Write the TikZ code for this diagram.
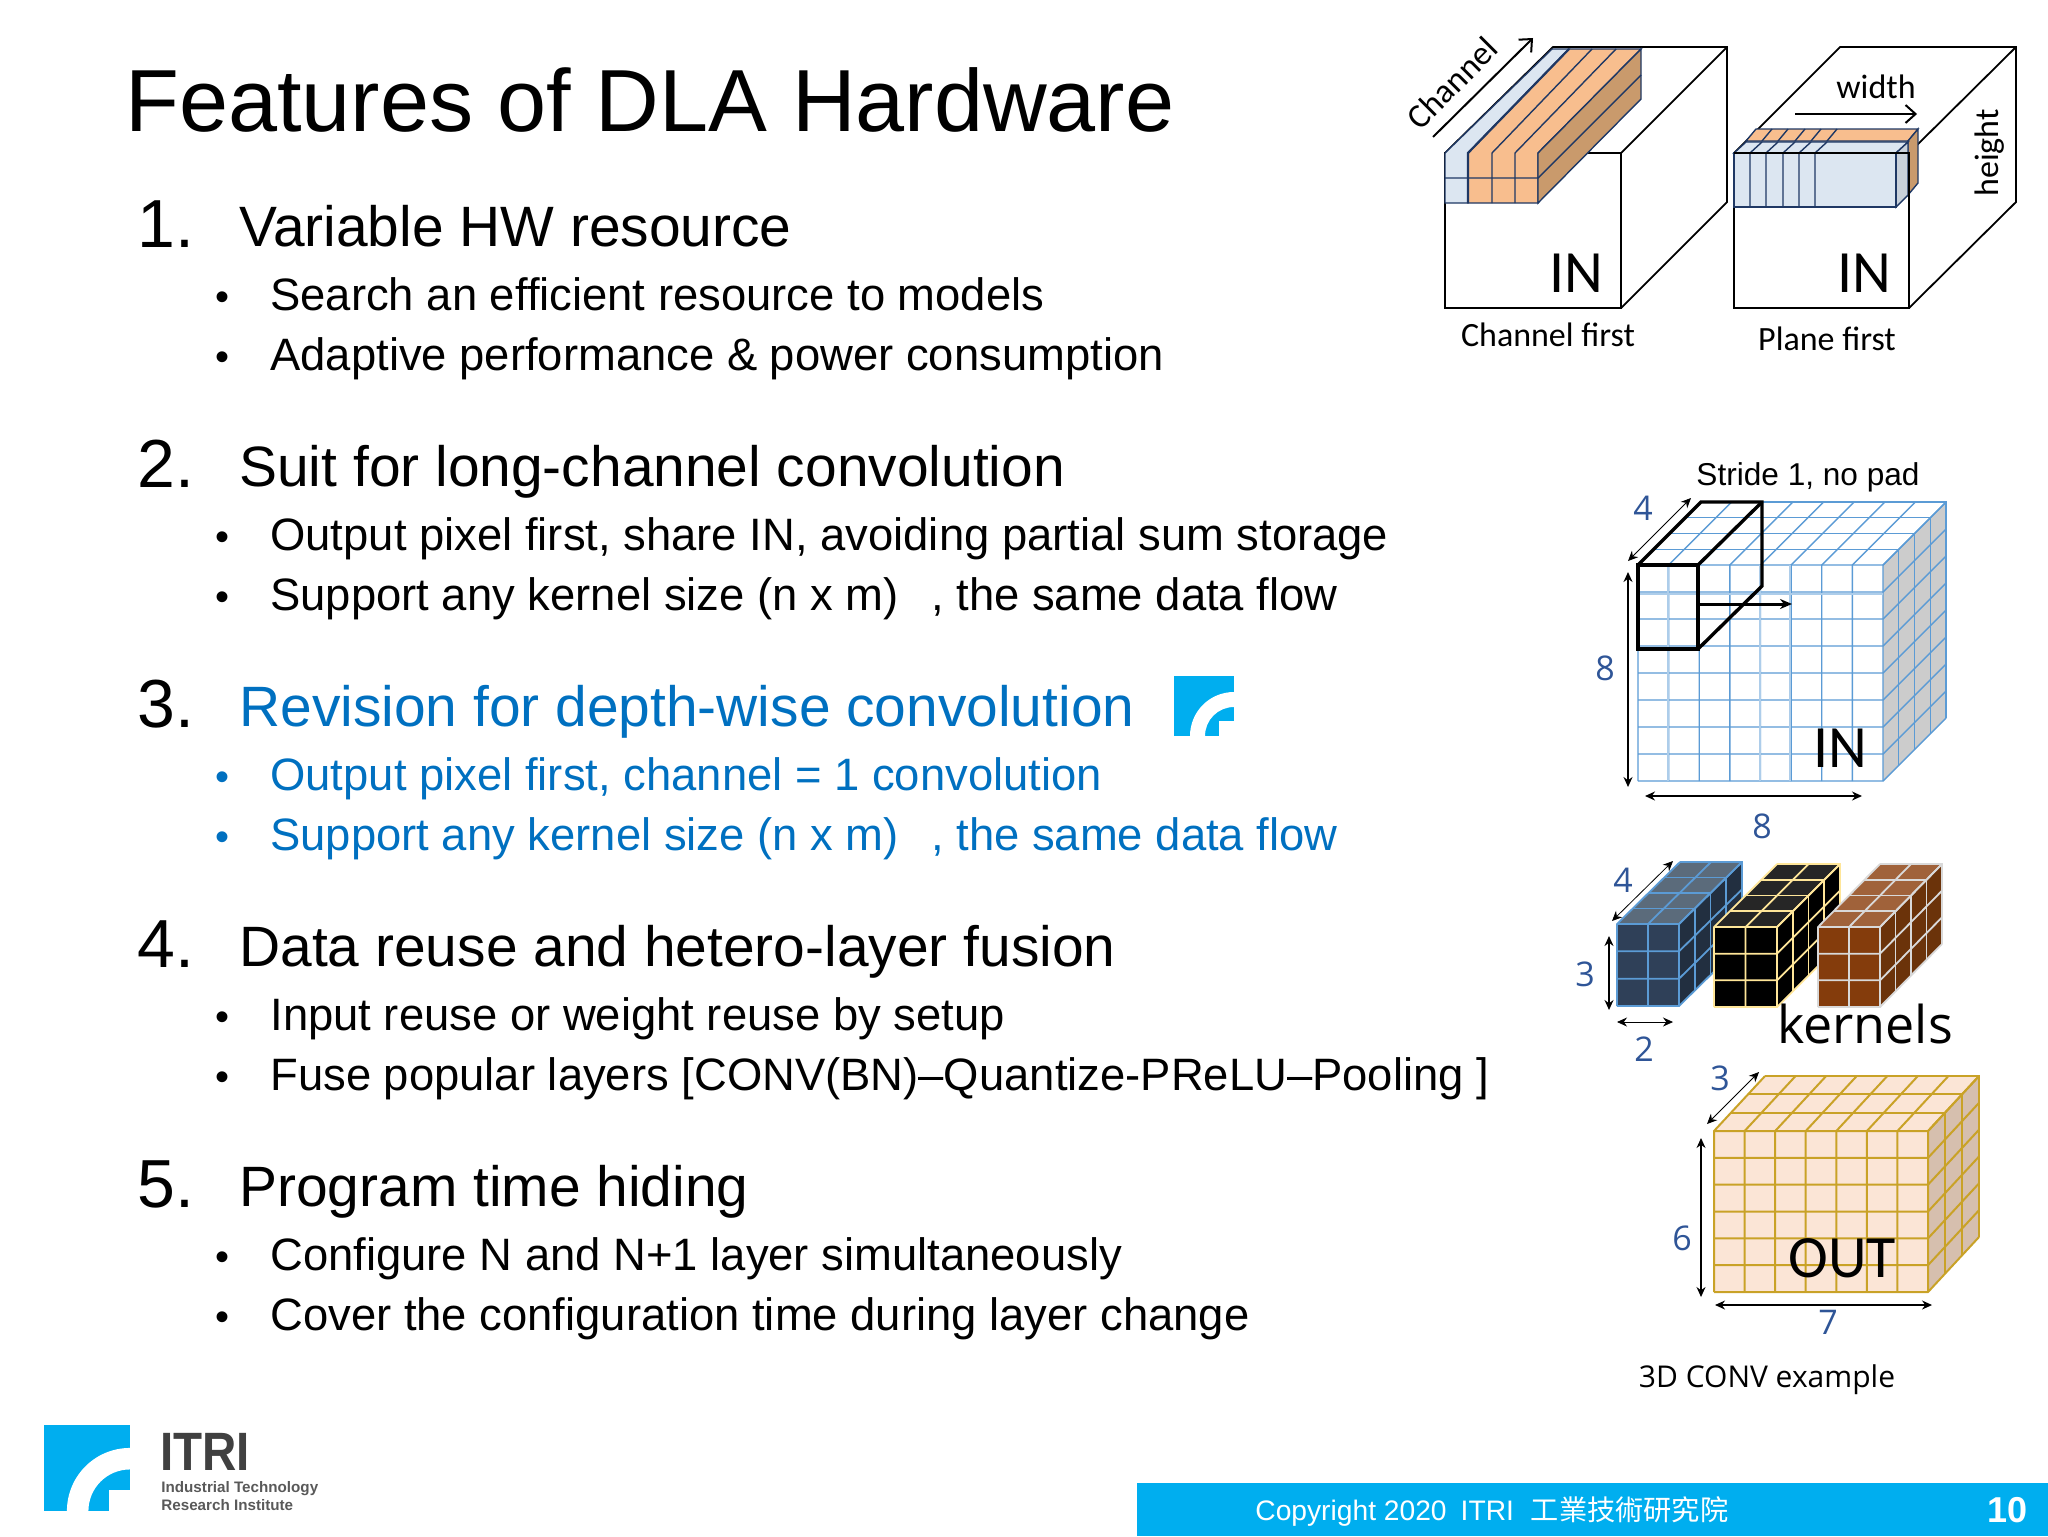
\documentclass[tikz,border=0pt]{standalone}
\usepackage{fontspec}
\usepackage{xcolor}
\setmainfont{Liberation Sans}
\newfontfamily\calfont{Carlito}
\newfontfamily\openfont{Open Sans}
\newfontfamily\cjkfont{Noto Sans CJK TC}
\usetikzlibrary{arrows.meta}
\definecolor{itriblue}{HTML}{00AEEF}
\definecolor{revblue}{HTML}{0070C0}
\definecolor{dimblue}{HTML}{2F5597}
\definecolor{gridblue}{HTML}{5B9BD5}
\definecolor{barblue}{HTML}{DCE6F1}
\definecolor{barorange}{HTML}{F8BE8E}
\definecolor{barbrown}{HTML}{C99A6C}
\definecolor{barline}{HTML}{1F3864}
\definecolor{outline}{HTML}{C9A227}
\definecolor{outfill}{HTML}{FBE5D6}
\definecolor{paleyellow}{HTML}{FFE699}

% w, h, cols, rows, depth, dx, dy
\newcommand{\gridbox}[7]{
    \fill[boxfront] (0,0) rectangle (#1,#2);
    \fill[boxtop] (0,0) -- (#6,#7) -- ++(#1,0) -- (#1,0) -- cycle;
    \fill[boxside] (#1,0) -- ++(#6,#7) -- ++(0,#2) -- (#1,#2) -- cycle;
    \foreach \i in {0,...,#3}
        \draw[boxline] ({\i*#1/#3},#2) -- ({\i*#1/#3},0) -- ++(#6,#7);
    \foreach \j in {0,...,#4}
        \draw[boxline] (0,{\j*#2/#4}) -- (#1,{\j*#2/#4}) -- ++(#6,#7);
    \foreach \k in {1,...,#5}
        \draw[boxline] ({\k*#6/#5},{\k*#7/#5}) -- ++(#1,0) -- ++(0,#2);
}

% 60 x 60 mark
\newcommand{\itrimark}{
    \fill[itriblue] (0,0) rectangle (60,60);
    \fill[white] (16,60) to[out=90,in=180] (60,16) -- (60,31) to[out=180,in=90] (31,60) -- cycle;
    \fill[white] (45,45) rectangle (60,60);
}

\begin{document}
\begin{tikzpicture}[
        x=0.5pt, y=-0.5pt,
        title/.style={anchor=base west, inner sep=0pt, font=\fontsize{44.1}{44}\selectfont},
        numlabel/.style={anchor=base west, inner sep=0pt, font=\fontsize{34}{34}\selectfont},
        headlabel/.style={anchor=base west, inner sep=0pt, font=\fontsize{28.45}{28}\selectfont},
        sublabel/.style={anchor=base west, inner sep=0pt, font=\fontsize{22.7}{24}\selectfont},
        bulletlabel/.style={anchor=base, inner sep=0pt, font=\fontsize{20}{20}\selectfont},
        callabel/.style={inner sep=0pt, font=\calfont\fontsize{17}{17}\selectfont},
        inlabel/.style={inner sep=0pt, font=\calfont\fontsize{30}{30}\selectfont},
        dimlabel/.style={inner sep=0pt, text=dimblue, font=\openfont\fontsize{17}{17}\selectfont},
        dimarrow/.style={{Stealth[length=5pt,width=4.5pt]}-{Stealth[length=5pt,width=4.5pt]}, line width=0.8pt},
        openarrow/.style={-{Straight Barb[length=5pt,width=9pt]}, line width=1pt},
        cubeedge/.style={draw=black, line width=0.9pt},
        baredge/.style={draw=barline, line width=0.7pt},
        stride/.style={draw=black, line width=1.7pt, line join=miter}
    ]
    \useasboundingbox (0,0) rectangle (2048,1536);

    \node[title] (title) at (125,132) {Features of DLA Hardware};

    \node[numlabel] (numA) at (137,247) {1.};
    \node[headlabel] (headA) at (239,246) {Variable HW resource};
    \node[bulletlabel] (dotAa) at (222,310) {•};
    \node[sublabel] (subAa) at (270,310) {Search an efficient resource to models};
    \node[bulletlabel] (dotAb) at (222,370) {•};
    \node[sublabel] (subAb) at (270,370) {Adaptive performance \& power consumption};

    \node[numlabel] (numB) at (137,487) {2.};
    \node[headlabel] (headB) at (239,486) {Suit for long-channel convolution};
    \node[bulletlabel] (dotBa) at (222,550) {•};
    \node[sublabel] (subBa) at (270,550) {Output pixel first, share IN, avoiding partial sum storage};
    \node[bulletlabel] (dotBb) at (222,610) {•};
    \node[sublabel] (subBb) at (270,610) {Support any kernel size (n x m)\hspace{0.72em}, the same data flow};

    \node[numlabel] (numC) at (137,727) {3.};
    \node[headlabel, text=revblue] (headC) at (239,726) {Revision for depth-wise convolution};
    \node[bulletlabel, text=revblue] (dotCa) at (222,790) {•};
    \node[sublabel, text=revblue] (subCa) at (270,790) {Output pixel first, channel = 1 convolution};
    \node[bulletlabel, text=revblue] (dotCb) at (222,850) {•};
    \node[sublabel, text=revblue] (subCb) at (270,850) {Support any kernel size (n x m)\hspace{0.72em}, the same data flow};

    \node[numlabel] (numD) at (137,967) {4.};
    \node[headlabel] (headD) at (239,966) {Data reuse and hetero-layer fusion};
    \node[bulletlabel] (dotDa) at (222,1030) {•};
    \node[sublabel] (subDa) at (270,1030) {Input reuse or weight reuse by setup};
    \node[bulletlabel] (dotDb) at (222,1090) {•};
    \node[sublabel] (subDb) at (270,1090) {Fuse popular layers [CONV(BN)–Quantize-PReLU–Pooling ]};

    \node[numlabel] (numE) at (137,1207) {5.};
    \node[headlabel] (headE) at (239,1206) {Program time hiding};
    \node[bulletlabel] (dotEa) at (222,1270) {•};
    \node[sublabel] (subEa) at (270,1270) {Configure N and N+1 layer simultaneously};
    \node[bulletlabel] (dotEb) at (222,1330) {•};
    \node[sublabel] (subEb) at (270,1330) {Cover the configuration time during layer change};

    \begin{scope}[shift={(1174,676)}]
        \itrimark
    \end{scope}

    % channel first
    \draw[cubeedge] (1445,153) rectangle (1621,308);
    \draw[cubeedge] (1445,153) -- (1553,47) -- (1727,47) -- (1727,202) -- (1621,308);
    \draw[cubeedge] (1621,153) -- (1727,47);
    \filldraw[baredge, fill=barblue] (1445,153) -- (1552,49) -- (1569,49) -- (1468,153) -- (1468,203) -- (1445,203) -- cycle;
    \filldraw[baredge, fill=barorange] (1468,153) -- (1569,49) -- (1641,49) -- (1538,153) -- (1538,203) -- (1468,203) -- cycle;
    \filldraw[baredge, fill=barbrown] (1538,153) -- (1641,49) -- (1641,99) -- (1538,203) -- cycle;
    \draw[baredge] (1445,178) -- (1538,178) -- (1641,75);
    \foreach \x/\xb in {1492/1592, 1515/1616}
        \draw[baredge] (\x,203) -- (\x,153) -- (\xb,49);
    \draw[baredge, line width=1.1pt] (1468,203) -- (1468,153) -- (1569,49);
    \draw[openarrow] (1433,137) -- (1533,38);
    \node[callabel, rotate=45] (channel) at (1452,83) {Channel};
    \node[inlabel] (inleft) at (1576,273) {IN};
    \node[callabel] (chfirst) at (1548,335) {Channel first};

    % plane first
    \draw[cubeedge] (1734,153) rectangle (1909,308);
    \draw[cubeedge] (1734,153) -- (1840,47) -- (2016,47) -- (2016,202) -- (1909,308);
    \draw[cubeedge] (1909,153) -- (2016,47);
    \filldraw[baredge, fill=barorange] (1746,141) -- (1756,129) -- (1918,129) -- (1908,141) -- cycle;
    \filldraw[baredge, fill=barbrown] (1908,141) -- (1918,129) -- (1918,183) -- (1908,195) -- cycle;
    \filldraw[baredge, fill=barblue] (1734,153) -- (1746,142) -- (1908,142) -- (1896,153) -- cycle;
    \filldraw[baredge, fill=barblue!80!gray] (1896,153) -- (1908,142) -- (1908,195) -- (1896,207) -- cycle;
    \filldraw[baredge, fill=barblue] (1734,153) rectangle (1896,207);
    \foreach \x in {1750,1766,1783,1799,1815}
        \draw[baredge] (\x,207) -- (\x,153) -- ++(12,-11) ++(0,-1) -- ++(10,-12);
    \draw[black, line width=0.9pt] (1734,153) -- (1909,153) -- (1909,207);
    \draw[openarrow] (1795,114) -- (1917,114);
    \node[callabel] (width) at (1876,87) {width};
    \node[callabel, rotate=90] (height) at (1990,153) {height};
    \node[inlabel] (inright) at (1864,273) {IN};
    \node[callabel] (plfirst) at (1827,339) {Plane first};

    % 3D conv input
    \node[inner sep=0pt, font=\fontsize{15.8}{16}\selectfont] (stridelabel) at (1808,477) {Stride 1, no pad};
    \begin{scope}[shift={(1638,565)},
            boxfront/.style={white}, boxtop/.style={white}, boxside/.style={fill=gray!40},
            boxline/.style={draw=gridblue, line width=0.7pt}]
        \gridbox{245}{216}{8}{8}{4}{63}{-63}
    \end{scope}
    \draw[gridblue!50, line width=1.4pt] (1668,565) -- (1668,781) (1760,565) -- (1760,781) (1790,565) -- (1790,781) (1638,594) -- (1883,594);
    \node[inlabel] (ininput) at (1840,748) {IN};
    \draw[stride] (1638,565) rectangle (1698,649);
    \draw[stride] (1638,565) -- (1701,502) -- (1762,502) -- (1762,586) -- (1698,649);
    \draw[stride] (1698,565) -- (1762,502);
    \draw[-{Stealth[length=6pt,width=5pt]}, line width=1.5pt] (1698,604) -- (1792,604);
    \draw[dimarrow, line width=0.4pt] (1628,561) -- (1691,498);
    \draw[dimarrow] (1628,572) -- (1628,787);
    \draw[dimarrow] (1645,796) -- (1862,796);
    \node[dimlabel] (indepth) at (1643,508) {4};
    \node[dimlabel] (inheight) at (1605,668) {8};
    \node[dimlabel] (inwidth) at (1762,826) {8};

    % kernels
    \begin{scope}[shift={(1617,924)},
            boxfront/.style={fill={rgb,255:red,47;green,64;blue,88}}, boxtop/.style={fill={rgb,255:red,91;green,107;blue,123}}, boxside/.style={fill={rgb,255:red,34;green,47;blue,64}},
            boxline/.style={draw=gridblue, line width=0.9pt}]
        \gridbox{62}{82}{2}{3}{4}{63}{-62}
    \end{scope}
    \begin{scope}[shift={(1714,927)},
            boxfront/.style={black}, boxtop/.style={fill=black!85}, boxside/.style={black},
            boxline/.style={draw=paleyellow, line width=0.9pt}]
        \gridbox{63}{80}{2}{3}{4}{63}{-63}
    \end{scope}
    \begin{scope}[shift={(1818,927)},
            boxfront/.style={fill={rgb,255:red,132;green,60;blue,12}}, boxtop/.style={fill={rgb,255:red,160;green,98;blue,58}}, boxside/.style={fill={rgb,255:red,107;green,51;blue,10}},
            boxline/.style={draw=gray!30, line width=0.9pt}]
        \gridbox{62}{80}{2}{3}{4}{62}{-63}
    \end{scope}
    \draw[dimarrow, line width=0.4pt] (1612,921) -- (1673,861);
    \draw[dimarrow] (1609,936) -- (1609,1010);
    \draw[dimarrow, line width=0.4pt] (1617,1022) -- (1673,1022);
    \node[dimlabel] (kdepth) at (1623,880) {4};
    \node[dimlabel] (kheight) at (1585,974) {3};
    \node[dimlabel] (kwidth) at (1644,1049) {2};
    \node[inner sep=0pt, font=\openfont\fontsize{26}{26}\selectfont] (kernels) at (1865,1024) {kernels};

    % 3D conv output
    \begin{scope}[shift={(1714,1131)},
            boxfront/.style={fill=outfill}, boxtop/.style={fill=outfill}, boxside/.style={fill={rgb,255:red,214;green,191;blue,174}},
            boxline/.style={draw=outline, line width=1pt}]
        \gridbox{214}{161}{7}{6}{3}{51}{-55}
    \end{scope}
    \node[inlabel] (outlabel) at (1842,1258) {OUT};
    \draw[dimarrow, line width=0.4pt] (1707,1124) -- (1759,1072);
    \draw[dimarrow, line width=0.6pt] (1701,1138) -- (1701,1297);
    \draw[dimarrow, line width=0.6pt] (1715,1305) -- (1932,1305);
    \node[dimlabel] (odepth) at (1720,1078) {3};
    \node[dimlabel] (oheight) at (1682,1238) {6};
    \node[dimlabel] (owidth) at (1828,1322) {7};
    \node[inner sep=0pt, font=\openfont\fontsize{15}{15}\selectfont] (convlabel) at (1767,1380) {3D CONV example};

    % footer
    \begin{scope}[shift={(44,1425)}, scale=86/60]
        \itrimark
    \end{scope}
    \node[anchor=base west, inner sep=0pt, xscale=0.88, text=black!75, font=\bfseries\fontsize{27}{27}\selectfont] (itri) at (160,1470) {ITRI};
    \node[anchor=base west, inner sep=0pt, text=black!65, font=\bfseries\fontsize{7.6}{8}\selectfont] (itria) at (161,1492) {Industrial Technology};
    \node[anchor=base west, inner sep=0pt, text=black!65, font=\bfseries\fontsize{7.6}{8}\selectfont] (itrib) at (161,1510) {Research Institute};
    \fill[itriblue] (1137,1483) rectangle (2048,1536);
    \node[anchor=base west, inner sep=0pt, text=white, font=\fontsize{14.1}{14}\selectfont] (copyright) at (1255,1520) {Copyright 2020\hspace{0.5em}ITRI\hspace{0.6em}{\cjkfont 工業技術研究院}};
    \node[anchor=base, inner sep=0pt, text=white, font=\bfseries\fontsize{18}{18}\selectfont] (pagenum) at (2007,1522) {10};
\end{tikzpicture}
\end{document}
